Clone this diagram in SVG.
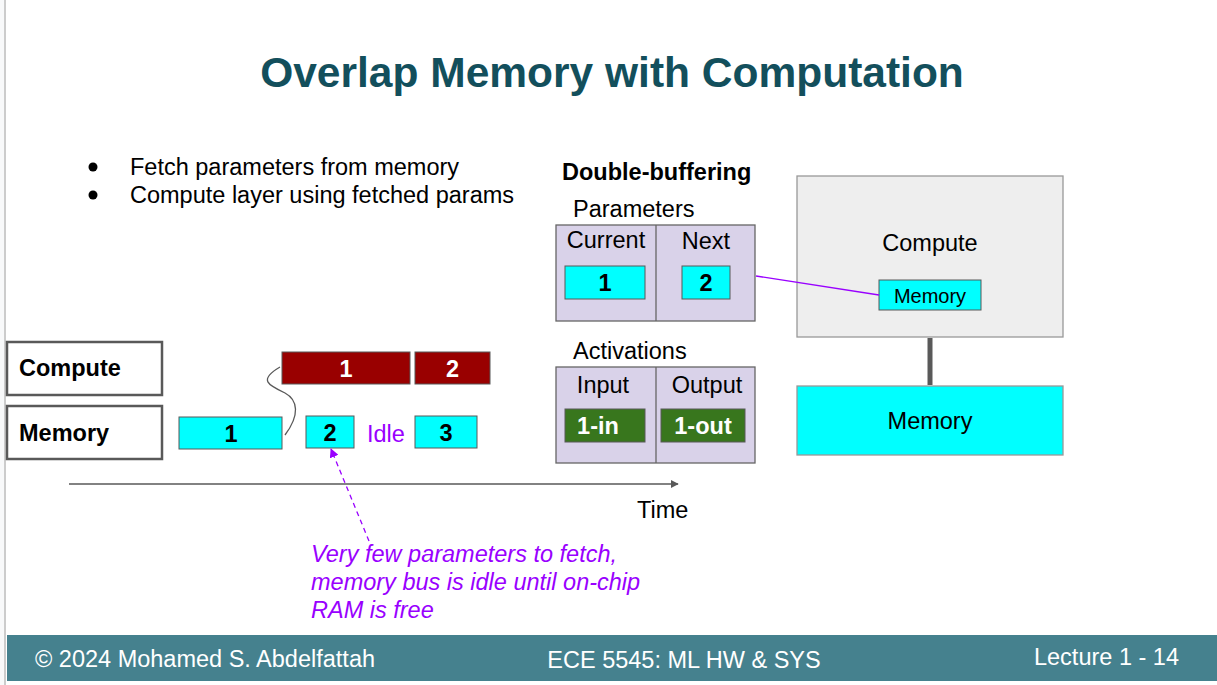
<svg xmlns="http://www.w3.org/2000/svg" width="1217" height="685" viewBox="0 0 1217 685">
<style>
text{font-family:"Liberation Sans",Arial,sans-serif;font-size:23.5px;fill:#000}
.b{font-weight:bold}
.c{text-anchor:middle}
.w{fill:#fff}
.cy{fill:#00ffff;stroke:#595959;stroke-width:1}
.red{fill:#990000;stroke:#595959;stroke-width:1}
.grn{fill:#38761d;stroke:#595959;stroke-width:1}
.lav{fill:#d9d2e9;stroke:#666;stroke-width:1.3}
.lbl{fill:#fff;stroke:#595959;stroke-width:2.5}
.pur{fill:#9900ff}
</style>
<defs>
<marker id="ah" viewBox="0 0 10 10" refX="9" refY="5" markerWidth="6" markerHeight="6" orient="auto"><path d="M0,0 L10,5 L0,10 z" fill="#595959"/></marker>
<marker id="ahp" viewBox="0 0 10 10" refX="9" refY="5" markerWidth="7" markerHeight="7" orient="auto"><path d="M0,0 L10,5 L0,10 z" fill="#9900ff"/></marker>
</defs>
<rect x="0" y="0" width="1217" height="685" fill="#fff"/>
<rect x="0" y="0" width="4" height="685" fill="#f8f9fa"/>
<rect x="4" y="0" width="2" height="685" fill="#cccccc"/>
<g id="title"><text x="612" y="87" class="b c" style="font-size:42.5px;fill:#134f5c">Overlap Memory with Computation</text></g>
<g id="bullets">
<circle cx="93" cy="167" r="4.5" fill="#000"/>
<text x="130" y="175">Fetch parameters from memory</text>
<circle cx="93" cy="195" r="4.5" fill="#000"/>
<text x="130" y="203">Compute layer using fetched params</text>
</g>
<g id="compute-label"><rect x="7" y="342" width="155" height="53" class="lbl"/><text x="19" y="376" class="b">Compute</text></g>
<g id="memory-label"><rect x="7" y="406" width="155" height="53" class="lbl"/><text x="19" y="441" class="b">Memory</text></g>
<g id="compute-1"><rect x="282" y="352" width="128" height="32" class="red"/><text x="346" y="377" class="b c w">1</text></g>
<g id="compute-2"><rect x="415" y="352" width="75" height="32" class="red"/><text x="452.5" y="377" class="b c w">2</text></g>
<g id="memory-1"><rect x="179" y="417" width="103" height="32" class="cy"/><text x="231" y="442" class="b c">1</text></g>
<g id="memory-2"><rect x="306" y="416" width="48" height="32" class="cy"/><text x="330" y="441" class="b c">2</text></g>
<g id="idle"><text x="367" y="442" class="pur">Idle</text></g>
<g id="memory-3"><rect x="415" y="416" width="62" height="32" class="cy"/><text x="446" y="441" class="b c">3</text></g>
<g id="time"><text x="637" y="518">Time</text></g>
<g id="note"><text x="311" y="562" class="pur" font-style="italic">Very few parameters to fetch,</text>
<text x="311" y="590" class="pur" font-style="italic">memory bus is idle until on-chip</text>
<text x="311" y="618" class="pur" font-style="italic">RAM is free</text></g>
<g id="double-buffering"><text x="562" y="180" class="b">Double-buffering</text></g>
<g id="parameters">
<text x="573" y="217">Parameters</text>
<rect x="556" y="225" width="199" height="96" class="lav"/>
<line x1="656" y1="225" x2="656" y2="321" stroke="#666" stroke-width="1.3"/>
<text x="606" y="248" class="c">Current</text>
<text x="706" y="249" class="c">Next</text>
</g>
<g id="param-1"><rect x="565" y="266" width="80" height="33" class="cy"/><text x="605" y="291" class="b c">1</text></g>
<g id="param-2"><rect x="682" y="266" width="48" height="33" class="cy"/><text x="706" y="291" class="b c">2</text></g>
<g id="activations">
<text x="573" y="359">Activations</text>
<rect x="556" y="367" width="199" height="96" class="lav"/>
<line x1="656" y1="367" x2="656" y2="463" stroke="#666" stroke-width="1.3"/>
<text x="603" y="393" class="c">Input</text>
<text x="707" y="393" class="c">Output</text>
</g>
<g id="act-in"><rect x="565" y="409" width="80" height="33" class="grn"/><text x="598" y="434" class="b c w">1-in</text></g>
<g id="act-out"><rect x="661" y="409" width="84" height="33" class="grn"/><text x="703" y="434" class="b c w">1-out</text></g>
<g id="compute-block"><rect x="797" y="176" width="266" height="161" fill="#eeeeee" stroke="#999" stroke-width="1.3"/><text x="930" y="251" class="c">Compute</text></g>
<g id="onchip-memory"><rect x="879" y="280" width="102" height="30" class="cy"/><text x="930" y="303" class="c" style="font-size:20px">Memory</text></g>
<g id="offchip-memory"><rect x="797" y="386" width="266" height="69" fill="#00ffff" stroke="#999" stroke-width="1.3"/><text x="930" y="429" class="c">Memory</text></g>
<g id="connectors">
<line x1="69" y1="484" x2="678" y2="484" stroke="#595959" stroke-width="1.3" marker-end="url(#ah)"/>
<path d="M285,435 C300,415 298,400 285,393 C268,385 258,380 280,367" fill="none" stroke="#595959" stroke-width="1.3"/>
<line x1="369" y1="541" x2="331" y2="449" stroke="#9900ff" stroke-width="1.3" stroke-dasharray="5,4" marker-end="url(#ahp)"/>
<line x1="756" y1="276" x2="879" y2="295" stroke="#9900ff" stroke-width="1.3"/>
<line x1="930" y1="338" x2="930" y2="385" stroke="#595959" stroke-width="5"/>
</g>
<g id="footer">
<rect x="7" y="635" width="1210" height="46" fill="#45818e"/>
<text x="35" y="667" class="w">© 2024 Mohamed S. Abdelfattah</text>
<text x="684" y="668" class="c w">ECE 5545: ML HW &amp; SYS</text>
<text x="1179" y="665" class="w" text-anchor="end">Lecture 1 - 14</text>
</g>
</svg>
